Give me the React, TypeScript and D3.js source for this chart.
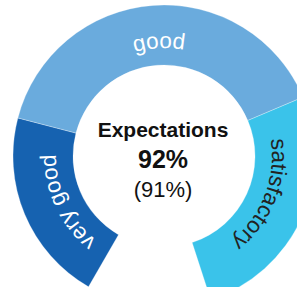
import React, { useRef, useEffect } from 'react';
import * as d3 from 'd3';

const categories = ['very good', 'good', 'satisfactory'];
const values = [22, 42, 28];
const colors = ['#1662b0', '#6aabdd', '#3ac3ea'];
const labelColors = ['#ffffff', '#ffffff', '#222222'];
const centerTitle = 'Expectations';
const centerValue = '92%';
const centerPrevious = '(91%)';

const App = () => {
  const svgRef = useRef<SVGSVGElement>(null);
  const width = 297;
  const height = 287;

  useEffect(() => {
    const svg = d3.select(svgRef.current);
    svg.selectAll('*').remove();

    const cx = 164;
    const cy = 156;
    const innerR = 91;
    const outerR = 151;
    const labelR = 108;
    // small nudges along the arc (px) so labels sit where the original puts them
    const labelNudge = [-5, 3, -6];

    const data = categories.map((c, i) => ({ name: c, value: values[i], color: colors[i], labelColor: labelColors[i] }));

    const pie = d3.pie<any>()
      .value(d => d.value)
      .sort(null)
      .startAngle(-150 * Math.PI / 180)
      .endAngle(162 * Math.PI / 180);

    const arcs = pie(data);

    const arc = d3.arc<any>()
      .innerRadius(innerR)
      .outerRadius(outerR);

    const g = svg.append('g')
      .attr('transform', `translate(${cx},${cy})`);

    g.selectAll('.slice')
      .data(arcs)
      .enter()
      .append('path')
      .attr('class', 'slice')
      .attr('d', arc)
      .attr('fill', d => d.data.color)
      .attr('stroke', '#ffffff')
      .attr('stroke-width', 0.3);

    // clockwise paths for the curved labels
    const defs = svg.append('defs');
    arcs.forEach((d, i) => {
      const a0 = d.startAngle - Math.PI / 2;
      const a1 = d.endAngle - Math.PI / 2;
      const p = d3.path();
      p.moveTo(cx + labelR * Math.cos(a0), cy + labelR * Math.sin(a0));
      p.arc(cx, cy, labelR, a0, a1, false);
      defs.append('path')
        .attr('id', `label-path-${i}`)
        .attr('d', p.toString());
    });

    arcs.forEach((d, i) => {
      const len = labelR * (d.endAngle - d.startAngle);
      svg.append('text')
        .style('font-family', '"Liberation Sans", Arial, sans-serif')
        .style('font-size', '22.5px')
        .style('fill', d.data.labelColor)
        .append('textPath')
        .attr('href', `#label-path-${i}`)
        .attr('startOffset', len / 2 + labelNudge[i])
        .attr('text-anchor', 'middle')
        .text(d.data.name);
    });

    const center = svg.append('g')
      .attr('transform', `translate(${163},0)`)
      .style('font-family', '"Liberation Sans", Arial, sans-serif')
      .attr('text-anchor', 'middle')
      .style('fill', '#111');

    center.append('text')
      .attr('y', 137)
      .style('font-size', '21px')
      .style('font-weight', 'bold')
      .text(centerTitle);

    center.append('text')
      .attr('y', 168)
      .style('font-size', '25px')
      .style('font-weight', 'bold')
      .text(centerValue);

    center.append('text')
      .attr('y', 197)
      .style('font-size', '22px')
      .text(centerPrevious);
  }, []);

  return (
    <svg
      ref={svgRef}
      width={width}
      height={height}
      viewBox={`0 0 ${width} ${height}`}
      style={{ position: 'absolute', left: 0, top: 0, display: 'block', background: 'white' }}
    ></svg>
  );
};

export default App;
